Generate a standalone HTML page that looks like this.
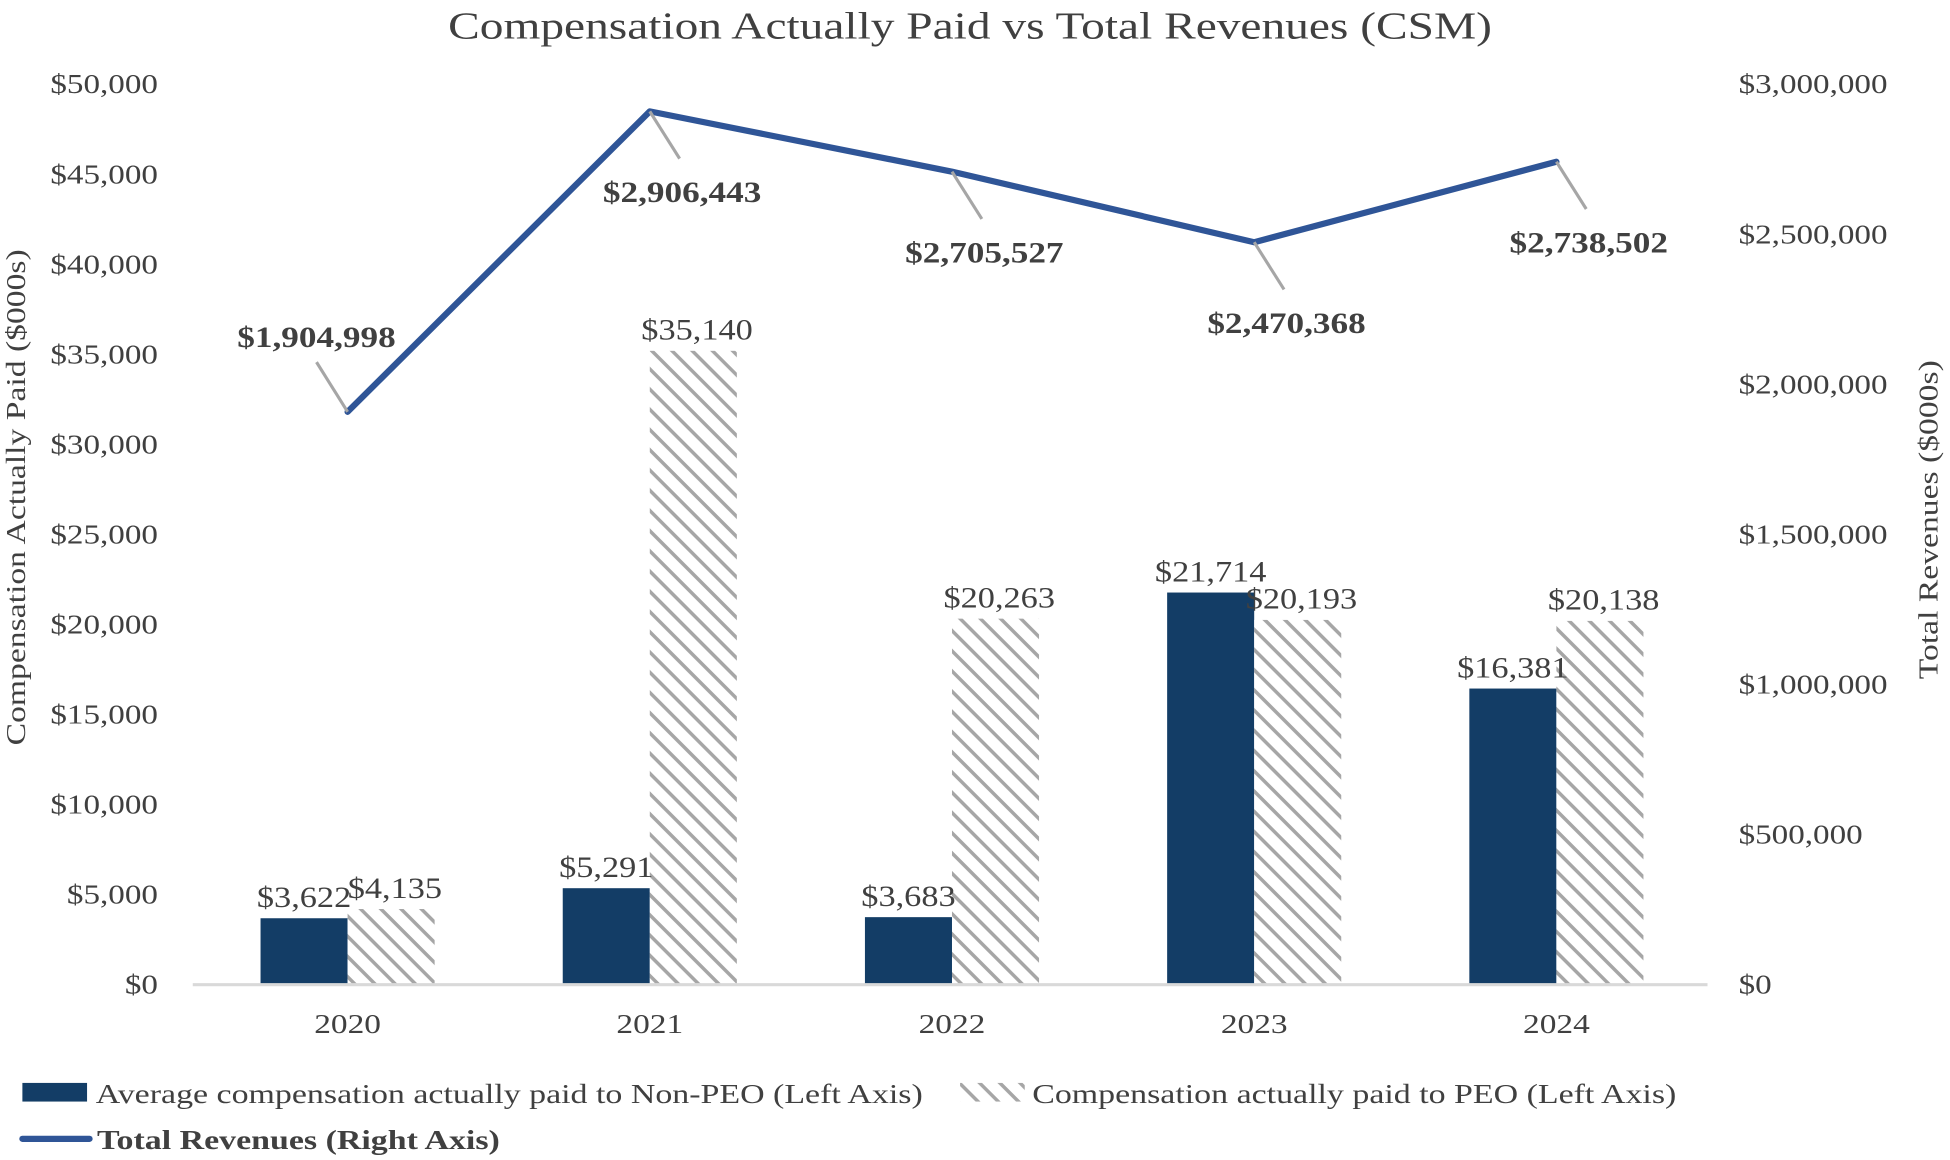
<!DOCTYPE html>
<html><head><meta charset="utf-8"><style>
html,body{margin:0;padding:0;background:#fff;}
svg{display:block;font-family:"Liberation Serif",serif;}
</style></head><body>
<svg id="chart" width="1950" height="1160" viewBox="0 0 1568 933" preserveAspectRatio="none" xmlns="http://www.w3.org/2000/svg">
<defs>
<pattern id="hatch" patternUnits="userSpaceOnUse" width="11.5" height="11.5" patternTransform="rotate(45)">
<rect width="11.5" height="11.5" fill="#fff"/>
<rect x="0" y="0" width="11.5" height="2.8" fill="#a6a6a6"/>
</pattern>
</defs>
<text transform="translate(780,31) scale(1.23,1)" text-anchor="middle" font-size="31" fill="#404040">Compensation Actually Paid vs Total Revenues (CSM)</text>
<g id="plot"></g>
<text transform="translate(20,400) rotate(-90) scale(1.23,1)" text-anchor="middle" font-size="22" fill="#404040">Compensation Actually Paid ($000s)</text>
<text transform="translate(1558,418) rotate(-90) scale(1.23,1)" text-anchor="middle" font-size="22" fill="#404040">Total Revenues ($000s)</text>
<g>
<rect x="18" y="871" width="52" height="15" fill="#133d66"/>
<text transform="translate(77,887) scale(1.24,1)" font-size="22" fill="#404040">Average compensation actually paid to Non-PEO (Left Axis)</text>
<rect x="772" y="871" width="52" height="15" fill="url(#hatch)"/>
<text transform="translate(830,887) scale(1.24,1)" font-size="22" fill="#404040">Compensation actually paid to PEO (Left Axis)</text>
<line x1="18" y1="916" x2="72" y2="916" stroke="#2f5597" stroke-width="5" stroke-linecap="round"/>
<text transform="translate(78,924) scale(1.24,1)" font-size="22" font-weight="bold" fill="#404040">Total Revenues (Right Axis)</text>
</g>
</svg>
<script>
const categories = ["2020","2021","2022","2023","2024"];
const nonPeo = [3622, 5291, 3683, 21714, 16381];
const peo = [4135, 35140, 20263, 20193, 20138];
const revenue = [1904998, 2906443, 2705527, 2470368, 2738502];
const leftTicks = [0,5000,10000,15000,20000,25000,30000,35000,40000,45000,50000];
const rightTicks = [0,500000,1000000,1500000,2000000,2500000,3000000];

const NS = "http://www.w3.org/2000/svg";
const g = document.getElementById("plot");
const X0 = 158, X1 = 1373, Y0 = 791, Y1 = 67;
const band = (X1 - X0) / categories.length;
const xc = i => X0 + band * (i + 0.5);
const yL = v => Y0 - v / 50000 * (Y0 - Y1);
const yR = v => Y0 - v / 3000000 * (Y0 - Y1);
const fmt = v => "$" + v.toLocaleString("en-US");
function el(tag, attrs, text) {
  const e = document.createElementNS(NS, tag);
  for (const k in attrs) e.setAttribute(k, attrs[k]);
  if (text !== undefined) e.textContent = text;
  g.appendChild(e);
  return e;
}
function txt(x, y, s, attrs, sx) {
  const a = Object.assign({transform: "translate(" + x + "," + y + ") scale(" + sx + ",1)", fill: "#404040"}, attrs);
  return el("text", a, s);
}
leftTicks.forEach(v => {
  const t = txt(127, yL(v) + 8, fmt(v), {"text-anchor": "end", "font-size": 22}, 1.21);
  
  
});
rightTicks.forEach(v => {
  const t = txt(1398, yR(v) + 8, fmt(v), {"font-size": 22}, 1.21);
  
  
});
const bw = 70;
categories.forEach((c, i) => {
  const cx = xc(i);
  const b1 = el("rect", {x: cx - bw, y: yL(nonPeo[i]), width: bw, height: Y0 - yL(nonPeo[i]), fill: "#133d66"});
  
  
  const b2 = el("rect", {x: cx, y: yL(peo[i]), width: bw, height: Y0 - yL(peo[i]), fill: "url(#hatch)"});
  
  
  const l1 = txt(cx - bw / 2, yL(nonPeo[i]) - 9, fmt(nonPeo[i]), {"text-anchor": "middle", "font-size": 24}, 1.15);
  
  
  const l2 = txt(cx + bw / 2 + 3, yL(peo[i]) - 9, fmt(peo[i]), {"text-anchor": "middle", "font-size": 24}, 1.15);
  
  
  const xl = txt(cx, 831, c, {"text-anchor": "middle", "font-size": 22}, 1.22);
  
  
});
const ax = el("line", {x1: X0 - 3, y1: Y0 + 1, x2: X1, y2: Y0 + 1, stroke: "#d9d9d9", "stroke-width": 2.5});


const pts = revenue.map((v, i) => xc(i) + "," + yR(v)).join(" ");
const line = el("polyline", {points: pts, fill: "none", stroke: "#2f5597", "stroke-width": 5, "stroke-linejoin": "round", "stroke-linecap": "round"});


revenue.forEach((v, i) => {
  const x = xc(i), y = yR(v);
  const up = i === 0;
  const lx = up ? x - 25 : x + 24;
  const ly = up ? y - 40 : y + 38;
  const ld = el("line", {x1: x, y1: y, x2: lx, y2: ly, stroke: "#a6a6a6", "stroke-width": 2.5});
  
  
  const tx = up ? x - 25 : x + 26;
  const ty = up ? y - 52 : y + 73;
  const t = txt(tx, ty, fmt(v), {"text-anchor": "middle", "font-size": 24, "font-weight": "bold"}, 1.18);
  
  
});
</script>
</body></html>
